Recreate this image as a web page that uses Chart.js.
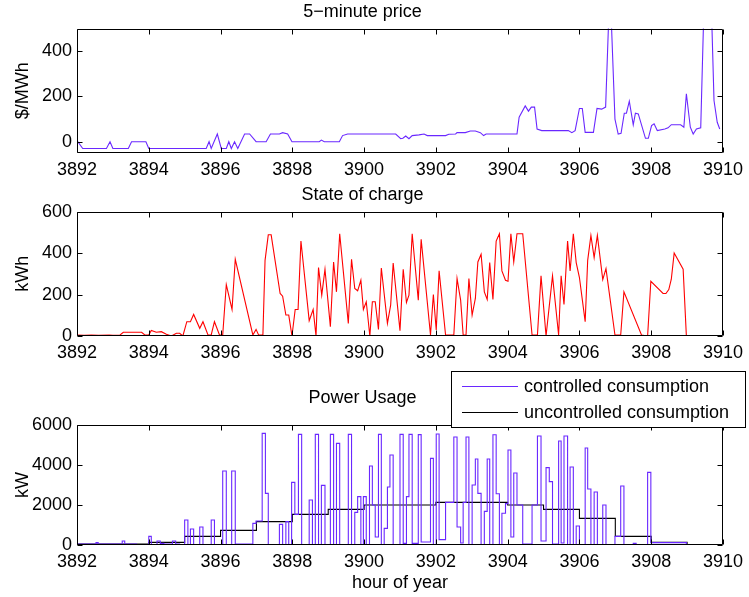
<!DOCTYPE html>
<html>
<head>
<meta charset="utf-8">
<title>Price, state of charge and power usage</title>
<script src="https://cdn.jsdelivr.net/npm/chart.js@4.4.1/dist/chart.umd.min.js"></script>
<style>
  html, body { margin: 0; padding: 0; background: #fff; }
  #page { position: relative; width: 749px; height: 597px; overflow: hidden; }
  .panel { position: absolute; left: 0; width: 749px; }
</style>
</head>
<body>
<div id="page">
  <div class="panel" style="top:0;height:176px"><canvas id="priceChart"></canvas></div>
  <div class="panel" style="top:183px;height:176px"><canvas id="socChart"></canvas></div>
  <div class="panel" style="top:366px;height:231px"><canvas id="powerChart"></canvas></div>
</div>
<script>
const hourTicks = [3892, 3894, 3896, 3898, 3900, 3902, 3904, 3906, 3908, 3910];
const priceTicks = [0, 200, 400];
const socTicks = [0, 200, 400, 600];
const powerTicks = [0, 2000, 4000, 6000];

// 5-minute price, $/MWh
const priceHours = [3892.00, 3892.16, 3892.82, 3892.92, 3893.00, 3893.43, 3893.52, 3893.92, 3894.00,
  3895.60, 3895.68, 3895.74, 3895.91, 3896.02, 3896.16, 3896.23, 3896.30, 3896.39, 3896.48, 3896.67,
  3896.81, 3896.99, 3897.27, 3897.39, 3897.64, 3897.73, 3897.87, 3897.99, 3898.75, 3898.81, 3898.89,
  3899.31, 3899.40, 3899.54, 3900.88, 3901.02, 3901.08, 3901.16, 3901.25, 3901.34, 3901.53, 3901.67,
  3901.76, 3902.27, 3902.36, 3902.55, 3902.59, 3902.82, 3902.96, 3903.10, 3903.24, 3903.33, 3903.40,
  3904.26, 3904.32, 3904.49, 3904.58, 3904.66, 3904.75, 3904.82, 3904.95, 3905.69, 3905.79, 3905.88,
  3906.00, 3906.08, 3906.16, 3906.39, 3906.49, 3906.62, 3906.73, 3906.85, 3906.99, 3907.08, 3907.16,
  3907.25, 3907.31, 3907.39, 3907.50, 3907.56, 3907.64, 3907.84, 3907.92, 3908.01, 3908.08, 3908.17,
  3908.38, 3908.47, 3908.56, 3908.82, 3908.91, 3908.98, 3909.09, 3909.17, 3909.26, 3909.38, 3909.57,
  3909.75, 3909.84, 3909.91];
const priceValues = [5, -30, -30, 0, -30, -30, 0, 0, -30,
  -30, 0, -30, 34, -30, -30, 0, -30, 0, -30, 34,
  34, 0, 0, 34, 34, 40, 34, 0, 0, 7, 0,
  0, 27, 34, 34, 13, 15, 25, 13, 27, 30, 34,
  27, 27, 33, 34, 40, 40, 47, 47, 40, 27, 34,
  34, 108, 158, 135, 153, 153, 56, 49, 49, 40, 49,
  147, 147, 41, 41, 147, 144, 153, 700, 100, 34, 37,
  126, 126, 179, 75, 126, 123, 15, 15, 71, 79, 49,
  56, 61, 75, 75, 64, 212, 64, 34, 56, 61, 1200,
  182, 86, 56];

// battery state of charge, kWh
const socHours = [3892.00, 3892.20, 3892.40, 3892.60, 3892.90, 3893.00, 3893.20, 3893.29, 3893.80, 3893.89,
  3894.00, 3894.07, 3894.21, 3894.35, 3894.49, 3894.63, 3894.77, 3894.86, 3894.95, 3895.06,
  3895.16, 3895.25, 3895.42, 3895.51, 3895.65, 3895.74, 3895.83, 3895.97, 3896.06, 3896.16,
  3896.32, 3896.41, 3896.90, 3896.99, 3897.06, 3897.18, 3897.24, 3897.33, 3897.41, 3897.66,
  3897.73, 3897.82, 3897.90, 3897.99, 3898.08, 3898.16, 3898.24, 3898.47, 3898.58, 3898.66,
  3898.73, 3898.82, 3898.91, 3899.06, 3899.15, 3899.23, 3899.32, 3899.56, 3899.65, 3899.74,
  3899.82, 3899.91, 3899.98, 3900.06, 3900.16, 3900.23, 3900.31, 3900.40, 3900.48, 3900.65,
  3900.74, 3900.81, 3901.00, 3901.09, 3901.18, 3901.25, 3901.34, 3901.51, 3901.59, 3901.85,
  3901.93, 3902.01, 3902.09, 3902.27, 3902.50, 3902.59, 3902.69, 3902.76, 3902.84, 3902.92,
  3903.01, 3903.10, 3903.17, 3903.26, 3903.35, 3903.43, 3903.50, 3903.59, 3903.68, 3903.77,
  3903.84, 3903.94, 3904.01, 3904.09, 3904.17, 3904.26, 3904.42, 3904.68, 3904.83, 3904.93,
  3905.07, 3905.25, 3905.42, 3905.49, 3905.57, 3905.67, 3905.74, 3905.83, 3905.91, 3906.00,
  3906.16, 3906.23, 3906.32, 3906.41, 3906.50, 3906.65, 3906.74, 3906.99, 3907.15, 3907.24,
  3907.73, 3907.90, 3907.99, 3908.33, 3908.41, 3908.49, 3908.56, 3908.64, 3908.89, 3908.98,
  3909.88];
const socValues = [5, 3, 5, 3, 5, 3, 5, 18, 18, 5,
  5, 27, 18, 21, 8, 0, 13, 13, 0, 69,
  69, 104, 37, 69, 5, 5, 69, 5, 5, 248,
  128, 370, 5, 32, 5, 5, 365, 488, 488, 205,
  192, 101, 101, 0, 128, 128, 458, 74, 128, 0,
  330, 197, 322, 45, 357, 213, 493, 61, 370, 229,
  218, 269, 128, 165, 0, 165, 165, 32, 328, 61,
  149, 352, 26, 322, 162, 197, 493, 173, 466, 5,
  200, 29, 314, 5, 5, 277, 173, 5, 5, 277,
  101, 181, 357, 394, 213, 176, 354, 176, 458, 493,
  314, 269, 264, 493, 357, 493, 493, 5, 5, 290,
  0, 290, 5, 290, 152, 458, 314, 493, 354, 282,
  69, 365, 485, 378, 485, 272, 325, 5, 5, 213,
  5, 0, 264, 205, 205, 224, 274, 400, 322, 0,
  0];

// controlled consumption, kW (each value holds until the next hour mark)
const controlledHours = [3892.00, 3892.53, 3892.59, 3893.26, 3893.33, 3893.66, 3894.00, 3894.07, 3894.23, 3894.32,
  3894.42, 3894.66, 3894.75, 3894.86, 3895.00, 3895.09, 3895.16, 3895.25, 3895.42, 3895.51,
  3895.74, 3895.83, 3896.06, 3896.16, 3896.31, 3896.41, 3896.90, 3896.99, 3897.16, 3897.25,
  3897.33, 3897.64, 3897.73, 3897.82, 3897.90, 3897.98, 3898.07, 3898.17, 3898.26, 3898.47,
  3898.56, 3898.64, 3898.73, 3898.81, 3898.91, 3899.06, 3899.15, 3899.23, 3899.32, 3899.56,
  3899.65, 3899.74, 3899.82, 3899.91, 3899.98, 3900.06, 3900.15, 3900.23, 3900.31, 3900.40,
  3900.48, 3900.56, 3900.65, 3900.72, 3900.81, 3901.00, 3901.09, 3901.18, 3901.25, 3901.34,
  3901.51, 3901.59, 3901.85, 3901.93, 3902.01, 3902.09, 3902.27, 3902.50, 3902.59, 3902.69,
  3902.76, 3902.84, 3902.92, 3903.01, 3903.10, 3903.17, 3903.26, 3903.35, 3903.43, 3903.50,
  3903.59, 3903.68, 3903.77, 3903.84, 3903.94, 3904.01, 3904.09, 3904.17, 3904.26, 3904.42,
  3904.68, 3904.83, 3904.93, 3905.07, 3905.16, 3905.25, 3905.42, 3905.49, 3905.57, 3905.67,
  3905.74, 3905.83, 3905.91, 3906.00, 3906.16, 3906.23, 3906.32, 3906.41, 3906.50, 3906.65,
  3906.74, 3906.99, 3907.15, 3907.24, 3907.50, 3907.58, 3907.90, 3907.99, 3908.98, 3909.88];
const controlledValues = [50, 120, 50, 200, 50, 0, 430, 0, 200, 80,
  50, 200, 50, 0, 1250, 0, 800, 0, 900, 0,
  1250, 0, 3700, 0, 3700, 50, 1080, 1200, 5580, 2580,
  0, 1030, 0, 1170, 0, 3130, 1530, 5530, 0, 2250,
  0, 5530, 0, 2980, 0, 5530, 0, 5080, 0, 5530,
  0, 1630, 2420, 0, 2420, 0, 3950, 2000, 400, 5530,
  0, 830, 2900, 4500, 0, 5530, 80, 2420, 5530, 80,
  5520, 150, 4330, 0, 5550, 270, 2130, 5400, 900, 100,
  2130, 5400, 0, 3000, 4300, 2580, 0, 1680, 4300, 0,
  5510, 2560, 0, 1590, 2070, 4750, 400, 3600, 2000, 50,
  2000, 5450, 200, 3870, 3170, 50, 5200, 100, 5450, 0,
  3900, 0, 950, 0, 4850, 2800, 0, 2650, 0, 2000,
  0, 430, 2950, 0, 80, 0, 3630, 120, 0, 0];

// uncontrolled consumption, kW, hourly steps
const uncontrolledHours = [3892, 3894, 3895, 3896, 3897, 3898, 3899, 3900, 3902, 3904, 3905, 3906, 3907, 3908, 3909, 3909.92];
const uncontrolledValues = [50, 130, 430, 730, 1170, 1530, 1780, 2000, 2130, 2000, 1780, 1330, 430, 130, 0, 0];

const FONT = "'Liberation Sans', Arial, Helvetica, sans-serif";
const PURPLE = '#6a28ff';
const RED = '#ff0000';
const BLACK = '#000000';

function toPoints(xs, ys) {
  return xs.map((x, i) => ({x: x, y: ys[i]}));
}

// box around the plot area with inward tick marks on all four sides
const frameTicks = {
  id: 'frameTicks',
  afterDraw(chart) {
    const ctx = chart.ctx;
    const a = chart.chartArea;
    const x = chart.scales.x, y = chart.scales.y;
    const L = Math.round(a.left) + 0.5, R = Math.round(a.right) - 0.5;
    const T = Math.round(a.top) + 0.5, B = Math.round(a.bottom) - 0.5;
    ctx.save();
    ctx.strokeStyle = '#000';
    ctx.lineWidth = 1;
    ctx.beginPath();
    x.ticks.forEach(t => {
      const px = Math.round(x.getPixelForValue(t.value)) + 0.5;
      ctx.moveTo(px, B); ctx.lineTo(px, B - 5);
      ctx.moveTo(px, T); ctx.lineTo(px, T + 5);
    });
    y.ticks.forEach(t => {
      const py = Math.round(y.getPixelForValue(t.value)) + 0.5;
      ctx.moveTo(L, py); ctx.lineTo(L + 5, py);
      ctx.moveTo(R, py); ctx.lineTo(R - 5, py);
    });
    ctx.rect(L, T, R - L, B - T);
    ctx.stroke();
    ctx.restore();
  }
};

// boxed legend in the upper right, sitting over the top edge of the plot
const boxLegend = {
  id: 'boxLegend',
  afterDraw(chart, args, opts) {
    const ctx = chart.ctx;
    const {left, top, width, height} = opts;
    ctx.save();
    ctx.fillStyle = '#fff';
    ctx.fillRect(left, top, width, height);
    ctx.strokeStyle = '#000';
    ctx.lineWidth = 1;
    ctx.strokeRect(left + 0.5, top + 0.5, width - 1, height - 1);
    ctx.font = '18px ' + FONT;
    ctx.textBaseline = 'middle';
    ctx.textAlign = 'left';
    chart.data.datasets.forEach((ds, i) => {
      const cy = top + 15 + i * 26;
      ctx.strokeStyle = ds.borderColor;
      ctx.beginPath();
      ctx.moveTo(left + 11, cy + 0.5);
      ctx.lineTo(left + 67, cy + 0.5);
      ctx.stroke();
      ctx.fillStyle = '#000';
      ctx.fillText(ds.label, left + 73, cy + 1);
    });
    ctx.restore();
  }
};

function makeOptions(cfg) {
  return {
    responsive: true,
    maintainAspectRatio: false,
    animation: false,
    devicePixelRatio: 1,
    layout: {padding: {left: 0, right: 24, top: 0, bottom: 0}},
    elements: {point: {radius: 0}, line: {borderWidth: 1.1, tension: 0}},
    plugins: {
      legend: {display: false},
      tooltip: {enabled: false},
      boxLegend: cfg.legendBox || false,
      title: {
        display: true,
        text: cfg.title,
        color: '#000',
        font: {family: FONT, size: 18, weight: 'normal'},
        padding: {top: cfg.titleTop, bottom: cfg.titleGap}
      }
    },
    scales: {
      x: {
        type: 'linear',
        min: 3892,
        max: 3910,
        afterBuildTicks: s => { s.ticks = hourTicks.map(v => ({value: v})); },
        afterFit: s => { s.height = cfg.xHeight; },
        grid: {display: false, drawTicks: false},
        border: {display: false},
        ticks: {
          color: '#000', font: {family: FONT, size: 18}, padding: 6,
          autoSkip: false, maxRotation: 0, callback: v => String(v)
        },
        title: cfg.xTitle ? {
          display: true, text: cfg.xTitle, color: '#000',
          font: {family: FONT, size: 18}, padding: {top: 0, bottom: 3}
        } : {display: false}
      },
      y: {
        min: cfg.yMin,
        max: cfg.yMax,
        afterBuildTicks: s => { s.ticks = cfg.yTicks.map(v => ({value: v})); },
        afterFit: s => { s.width = 77; },
        grid: {display: false, drawTicks: false},
        border: {display: false},
        ticks: {color: '#000', font: {family: FONT, size: 18}, padding: 5, callback: v => String(v)},
        title: {
          display: true, text: cfg.yTitle, color: '#000',
          font: {family: FONT, size: 18}, padding: {top: 12, bottom: 0}
        }
      }
    }
  };
}

new Chart(document.getElementById('priceChart'), {
  type: 'line',
  data: {datasets: [{label: 'price', data: toPoints(priceHours, priceValues), borderColor: PURPLE}]},
  options: makeOptions({title: '5\u2212minute price', titleTop: 1, titleGap: 6, xHeight: 23,
    yTitle: '$/MWh', yMin: -50, yMax: 500, yTicks: priceTicks}),
  plugins: [frameTicks]
});

new Chart(document.getElementById('socChart'), {
  type: 'line',
  data: {datasets: [{label: 'state of charge', data: toPoints(socHours, socValues), borderColor: RED}]},
  options: makeOptions({title: 'State of charge', titleTop: 1, titleGap: 6, xHeight: 23,
    yTitle: 'kWh', yMin: 0, yMax: 600, yTicks: socTicks}),
  plugins: [frameTicks]
});

const powerSeries = [
  {label: 'controlled consumption', hours: controlledHours, values: controlledValues, color: PURPLE},
  {label: 'uncontrolled consumption', hours: uncontrolledHours, values: uncontrolledValues, color: BLACK}
];

new Chart(document.getElementById('powerChart'), {
  type: 'line',
  data: {
    datasets: powerSeries.map(s => ({
      label: s.label, data: toPoints(s.hours, s.values), borderColor: s.color, stepped: true
    }))
  },
  options: makeOptions({title: 'Power Usage', titleTop: 21, titleGap: 16.4, xHeight: 52, xTitle: 'hour of year',
    yTitle: 'kW', yMin: 0, yMax: 6000, yTicks: powerTicks,
    legendBox: {left: 451, top: 5, width: 295, height: 57}}),
  plugins: [frameTicks, boxLegend]
});
</script>
</body>
</html>
